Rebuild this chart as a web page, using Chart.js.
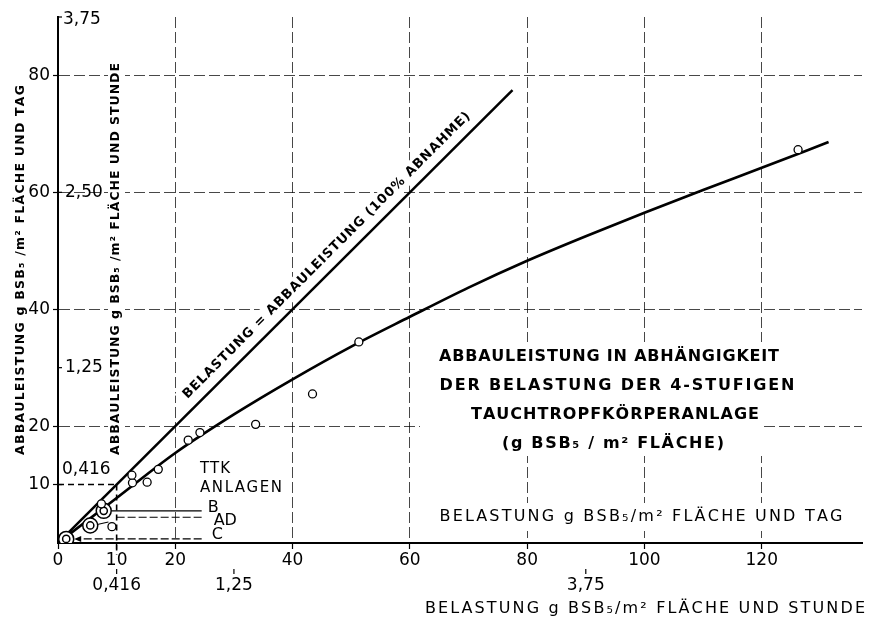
<!DOCTYPE html>
<html>
<head>
<meta charset="utf-8">
<script src="https://cdn.jsdelivr.net/npm/chart.js@4.4.1/dist/chart.umd.min.js"></script>
<style>
  html, body { margin: 0; padding: 0; background: #fff; }
</style>
</head>
<body>
<canvas id="c" width="871" height="620"></canvas>
<script>
// values, g BSB5 / m2 area and day
const measuredX = [126.2, 51.3, 43.4, 33.7, 24.2, 22.2, 17.1, 15.2, 12.7, 12.6, 9.2, 7.4];
const measuredY = [67.3, 34.4, 25.5, 20.3, 18.9, 17.6, 12.6, 10.4, 10.3, 11.6, 2.8, 6.7];
const ttkNames = ['B', 'AD', 'C'];
const ttkX = [7.8, 5.5, 1.4];
const ttkY = [5.5, 3.0, 0.7];
const curveX = [0, 10, 20, 30, 40, 50, 60, 70, 80, 90, 100, 110, 120, 131.4];
const curveY = [0, 7.7, 15.4, 22.0, 28.0, 33.6, 38.7, 43.7, 48.3, 52.5, 56.5, 60.4, 64.2, 68.6];
const idealX = [0, 77.5];
const idealY = [0, 77.5];
const xTicks = [0, 10, 20, 40, 60, 80, 100, 120];
const yTicks = [10, 20, 40, 60, 80];
// per-hour scale = per-day value / 24
const hourXLabels = ['0,416', '1,25', '3,75'];
const hourXValues = [10, 30, 90];
const hourYLabels = ['0,416', '1,25', '2,50', '3,75'];
const hourYValues = [10, 30, 60, 90];

const FONT = "'DejaVu Sans', sans-serif";
const pts = (xs, ys) => xs.map((x, i) => ({ x: x, y: ys[i] }));

// draw text char by char so it fills a given width (lettered look)
function spacedText(ctx, text, cx, cy, width, font) {
  ctx.font = font;
  const chars = [...text];
  const widths = chars.map(ch => ctx.measureText(ch).width);
  const raw = widths.reduce((a, b) => a + b, 0);
  const ls = chars.length > 1 ? (width - raw) / (chars.length - 1) : 0;
  let x = cx - width / 2;
  ctx.textAlign = 'left';
  ctx.textBaseline = 'middle';
  chars.forEach((ch, i) => { ctx.fillText(ch, x, cy); x += widths[i] + ls; });
}

function rotatedText(ctx, text, cx, cy, width, font, angle) {
  ctx.save();
  ctx.translate(cx, cy);
  ctx.rotate(angle);
  spacedText(ctx, text, 0, 0, width, font);
  ctx.restore();
}

// where the label of the 100% line sits (value on the line, offset in px)
const idealLabelAt = 47.5;
const idealLabelOffset = 14;

function idealLabelPos(xs, ys) {
  const x0 = xs.getPixelForValue(idealX[0]), y0 = ys.getPixelForValue(idealY[0]);
  const x1 = xs.getPixelForValue(idealX[1]), y1 = ys.getPixelForValue(idealY[1]);
  const a = Math.atan2(y1 - y0, x1 - x0);
  const px = xs.getPixelForValue(idealLabelAt), py = ys.getPixelForValue(idealLabelAt);
  return { x: px + idealLabelOffset * Math.sin(a), y: py - idealLabelOffset * Math.cos(a), a: a };
}

const annotations = {
  id: 'annotations',
  beforeDatasetsDraw(chart) {
    // white patches where the drawing interrupts the grid
    const ctx = chart.ctx;
    const xs = chart.scales.x, ys = chart.scales.y;
    ctx.save();
    ctx.fillStyle = '#fff';
    ctx.fillRect(420, 342, 390, 58);
    ctx.fillRect(420, 400, 342, 56);
    ctx.fillRect(432, 503, 420, 28);
    ctx.fillRect(108, 58, 17, 402);
    ctx.fillRect(196, 458, 92, 40);
    const p = idealLabelPos(xs, ys);
    ctx.translate(p.x, p.y);
    ctx.rotate(p.a);
    ctx.fillRect(-206, -9, 412, 18);
    ctx.restore();
  },
  afterDraw(chart) {
    const ctx = chart.ctx;
    const xs = chart.scales.x, ys = chart.scales.y;
    const area = chart.chartArea;
    ctx.save();
    ctx.fillStyle = '#000';
    ctx.strokeStyle = '#000';

    // 0,416 guide (10 g per day)
    const gx = xs.getPixelForValue(10), gy = ys.getPixelForValue(10);
    ctx.lineWidth = 1.6;
    ctx.setLineDash([6, 4]);
    ctx.beginPath();
    ctx.moveTo(area.left, gy); ctx.lineTo(gx, gy);
    ctx.moveTo(gx, gy); ctx.lineTo(gx, area.bottom + 12);
    ctx.stroke();
    ctx.setLineDash([]);

    // secondary (per hour) ticks and labels
    ctx.lineWidth = 1.2;
    ctx.font = '17px ' + FONT;
    ctx.textAlign = 'center';
    ctx.textBaseline = 'middle';
    hourXValues.forEach((v, i) => {
      const x = xs.getPixelForValue(v);
      ctx.beginPath(); ctx.moveTo(x, area.bottom + 26); ctx.lineTo(x, area.bottom + 31); ctx.stroke();
      ctx.fillText(hourXLabels[i], x, area.bottom + 43);
    });
    ctx.textAlign = 'left';
    hourYValues.forEach((v, i) => {
      const y = ys.getPixelForValue(v);
      ctx.beginPath(); ctx.moveTo(area.left, y); ctx.lineTo(area.left + 4, y); ctx.stroke();
      let ty = y, tx = area.left + 7;
      if (v === 10) { ty = y - 15; tx = area.left + 4; }
      if (v === 90) { ty = y + 3; tx = area.left + 5; }
      ctx.fillText(hourYLabels[i], tx, ty);
    });

    // axis titles
    rotatedText(ctx, 'ABBAULEISTUNG g BSB\u2085 /m\u00B2 FLÄCHE UND TAG', 21, 270, 370, 'bold 12.5px ' + FONT, -Math.PI / 2);
    rotatedText(ctx, 'ABBAULEISTUNG g BSB\u2085 /m\u00B2 FLÄCHE UND STUNDE', 116, 259, 392, 'bold 12.5px ' + FONT, -Math.PI / 2);
    spacedText(ctx, 'BELASTUNG g BSB\u2085/m\u00B2 FLÄCHE UND TAG', 641, 517, 403, '16px ' + FONT);
    spacedText(ctx, 'BELASTUNG g BSB\u2085/m\u00B2 FLÄCHE UND STUNDE', 645, 609, 440, '16px ' + FONT);

    // title block
    const tf = 'bold 16px ' + FONT;
    spacedText(ctx, 'ABBAULEISTUNG IN ABHÄNGIGKEIT', 609, 357, 340, tf);
    spacedText(ctx, 'DER BELASTUNG DER 4-STUFIGEN', 617, 386, 355, tf);
    spacedText(ctx, 'TAUCHTROPFKÖRPERANLAGE', 615, 415, 288, tf);
    spacedText(ctx, '(g BSB\u2085 / m\u00B2 FLÄCHE)', 613, 444, 222, tf);

    // label along the 100% line
    const p = idealLabelPos(xs, ys);
    rotatedText(ctx, 'BELASTUNG = ABBAULEISTUNG (100% ABNAHME)', p.x, p.y, 400, 'bold 13px ' + FONT, p.a);

    // TTK plants with leader lines
    spacedText(ctx, 'TTK', 215, 469, 30, '15px ' + FONT);
    spacedText(ctx, 'ANLAGEN', 241, 488, 82, '15px ' + FONT);
    const endX = xs.getPixelForValue(24.5);
    ctx.lineWidth = 1.1;
    // B
    let bx = xs.getPixelForValue(ttkX[0]), by = ys.getPixelForValue(ttkY[0]);
    ctx.beginPath(); ctx.moveTo(bx + 8, by); ctx.lineTo(endX, by); ctx.stroke();
    // AD
    bx = xs.getPixelForValue(ttkX[1]); by = ys.getPixelForValue(ttkY[1]);
    const adY = ys.getPixelForValue(4.4);
    ctx.beginPath(); ctx.moveTo(bx + 7, by - 1); ctx.lineTo(xs.getPixelForValue(8.6), ys.getPixelForValue(3.6)); ctx.stroke();
    ctx.setLineDash([8, 3]);
    ctx.beginPath(); ctx.moveTo(xs.getPixelForValue(10), adY); ctx.lineTo(endX, adY); ctx.stroke();
    // C with arrow
    bx = xs.getPixelForValue(ttkX[2]); by = ys.getPixelForValue(ttkY[2]);
    ctx.beginPath(); ctx.moveTo(endX, by); ctx.lineTo(bx + 12, by); ctx.stroke();
    ctx.setLineDash([]);
    ctx.beginPath(); ctx.moveTo(bx + 8, by); ctx.lineTo(bx + 15, by - 3); ctx.lineTo(bx + 15, by + 3); ctx.closePath(); ctx.fill();

    ctx.font = '16px ' + FONT;
    ctx.textAlign = 'left';
    ctx.textBaseline = 'middle';
    ctx.fillText(ttkNames[0], endX + 6, ys.getPixelForValue(ttkY[0]) - 3);
    ctx.fillText(ttkNames[1], endX + 12, adY + 4);
    ctx.fillText(ttkNames[2], endX + 10, ys.getPixelForValue(ttkY[2]) - 4);
    ctx.restore();
  }
};

const gridColor = 'rgba(0,0,0,0.72)';

new Chart(document.getElementById('c'), {
  type: 'scatter',
  data: {
    datasets: [
      {
        label: 'Messwerte',
        data: pts(measuredX, measuredY),
        pointRadius: 4,
        pointBackgroundColor: '#fff',
        pointBorderColor: '#000',
        pointBorderWidth: 1.3,
        showLine: false
      },
      {
        label: 'TTK Anlagen innen',
        data: pts(ttkX, ttkY),
        pointRadius: 3.6,
        pointBackgroundColor: 'rgba(255,255,255,0)',
        pointBorderColor: '#000',
        pointBorderWidth: 1.5,
        showLine: false
      },
      {
        label: 'TTK Anlagen',
        data: pts(ttkX, ttkY),
        pointRadius: 7.5,
        pointBackgroundColor: '#fff',
        pointBorderColor: '#000',
        pointBorderWidth: 1.5,
        showLine: false
      },
      {
        label: 'Abbauleistung',
        data: pts(curveX, curveY),
        showLine: true,
        borderColor: '#000',
        borderWidth: 2.7,
        pointRadius: 0,
        tension: 0.4,
        cubicInterpolationMode: 'monotone'
      },
      {
        label: '100% Abnahme',
        data: pts(idealX, idealY),
        showLine: true,
        borderColor: '#000',
        borderWidth: 2.5,
        pointRadius: 0
      }
    ]
  },
  options: {
    responsive: false,
    animation: false,
    layout: { padding: { top: 17, right: 0, left: 0, bottom: 0 } },
    plugins: {
      legend: { display: false },
      tooltip: { enabled: false }
    },
    scales: {
      x: {
        type: 'linear',
        min: 0,
        max: 137.1,
        afterBuildTicks: s => { s.ticks = xTicks.map(v => ({ value: v })); },
        afterFit: s => { s.height = 77; },
        grid: {
          color: c => (c.tick && c.tick.value > 10) ? gridColor : 'rgba(0,0,0,0)',
          lineWidth: 1,
          tickLength: 6,
          tickColor: '#000',
          tickWidth: 1.2
        },
        border: { display: true, color: '#000', width: 2, dash: [11, 4] },
        ticks: {
          color: '#000',
          font: { family: FONT, size: 17 },
          padding: 1,
          maxRotation: 0,
          autoSkip: false
        }
      },
      y: {
        type: 'linear',
        min: 0,
        max: 90,
        afterBuildTicks: s => { s.ticks = yTicks.map(v => ({ value: v })); },
        afterFit: s => { s.width = 58; },
        grid: {
          color: c => (c.tick && c.tick.value >= 20) ? gridColor : 'rgba(0,0,0,0)',
          lineWidth: 1,
          tickLength: 5,
          tickColor: '#000',
          tickWidth: 1.2
        },
        border: { display: true, color: '#000', width: 2, dash: [11, 4] },
        ticks: {
          color: '#000',
          font: { family: FONT, size: 17 },
          padding: 3
        }
      }
    }
  },
  plugins: [annotations]
});
</script>
</body>
</html>
